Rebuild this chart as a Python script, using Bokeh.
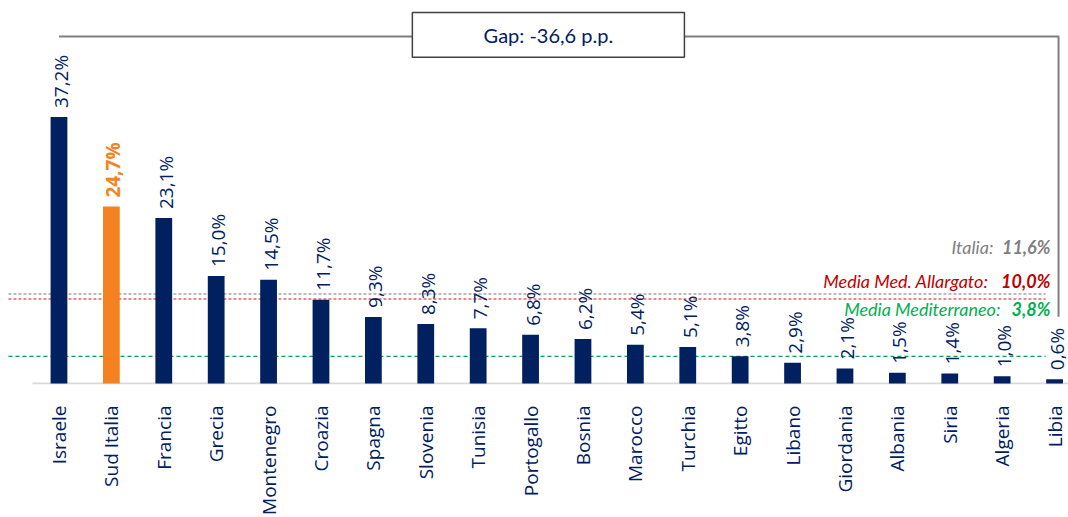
import math
from bokeh.plotting import figure
from bokeh.models import Range1d, FixedTicker, ColumnDataSource
from bokeh.core.properties import value
from bokeh.embed import file_html
from bokeh.resources import INLINE

# ---------------- data ----------------
countries = ["Israele", "Sud Italia", "Francia", "Grecia", "Montenegro", "Croazia",
             "Spagna", "Slovenia", "Tunisia", "Portogallo", "Bosnia", "Marocco",
             "Turchia", "Egitto", "Libano", "Giordania", "Albania", "Siria",
             "Algeria", "Libia"]
shares = [37.2, 24.7, 23.1, 15.0, 14.5, 11.7, 9.3, 8.3, 7.7, 6.8, 6.2, 5.4,
          5.1, 3.8, 2.9, 2.1, 1.5, 1.4, 1.0, 0.6]
highlight = "Sud Italia"

ref_names = ["Italia:", "Media Med. Allargato:", "Media Mediterraneo:"]
ref_values = [11.6, 10.0, 3.8]
ref_value_labels = ["11,6%", "10,0%", "3,8%"]
# levels at which the dashed reference lines are drawn in the original
ref_line_levels = [12.5, 11.8, 3.8]
ref_text_colors = ["#808080", "#C00000", "#00B050"]
ref_line_colors = ["#A6A6A6", "#E06666", "#00A050"]

gap_label = "Gap: -36,6 p.p."

# ---------------- styling ----------------
NAVY = "#002060"
ORANGE = "#F58220"

def fmt(v):
    return f"{v:.1f}".replace(".", ",") + "%"

n = len(countries)
xs = list(range(n))

p = figure(width=1068, height=517, output_backend="svg", toolbar_location=None,
           x_range=Range1d(-1.116, 19.266), y_range=Range1d(-0.14, 53.48),
           y_axis_location=None, min_border_left=0, min_border_right=0,
           min_border_top=0, min_border_bottom=132)
p.outline_line_color = None
p.xgrid.grid_line_color = None
p.ygrid.grid_line_color = None
p.background_fill_color = "white"

# x axis (tick labels only)
ax = p.xaxis[0]
ax.ticker = FixedTicker(ticks=xs)
ax.major_label_overrides = {i: c for i, c in enumerate(countries)}
ax.major_label_orientation = math.pi / 2
ax.axis_line_color = None
ax.major_tick_line_color = None
ax.minor_tick_line_color = None
ax.major_label_standoff = 15
ax.major_label_text_font = "Open Sans"
ax.major_label_text_font_size = "19px"
ax.major_label_text_color = NAVY

# dashed reference lines (behind bars)
dashes = ["3 2", "3 2", "4 3"]
widths = [1.5, 1.5, 1.2]
for lvl, col, d, w in zip(ref_line_levels, ref_line_colors, dashes, widths):
    p.line([-0.964, 18.83], [lvl, lvl], line_color=col, line_dash=d, line_width=w)

# baseline
p.line([-0.506, 19.26], [0, 0], line_color="#D9D9D9", line_width=2)

# bars
colors = [ORANGE if c == highlight else NAVY for c in countries]
src = ColumnDataSource(dict(x=xs, top=shares, color=colors))
p.vbar(x="x", top="top", bottom=0, width=0.32, fill_color="color",
       line_color=None, source=src)

# value labels
norm_idx = [i for i, c in enumerate(countries) if c != highlight]
hi_idx = [i for i, c in enumerate(countries) if c == highlight]
src_n = ColumnDataSource(dict(x=[xs[i] for i in norm_idx],
                              y=[shares[i] for i in norm_idx],
                              t=[fmt(shares[i]) for i in norm_idx]))
src_h = ColumnDataSource(dict(x=[xs[i] for i in hi_idx],
                              y=[shares[i] for i in hi_idx],
                              t=[fmt(shares[i]) for i in hi_idx]))
p.text(x="x", y="y", text="t", source=src_n, angle=math.pi / 2,
       text_align="left", text_baseline="middle", x_offset=2, y_offset=-9,
       text_font=value("Open Sans"), text_font_size="19px", text_color=NAVY)
p.text(x="x", y="y", text="t", source=src_h, angle=math.pi / 2,
       text_align="left", text_baseline="middle", x_offset=2, y_offset=-9,
       text_font=value("Open Sans"), text_font_size="19px", text_color=ORANGE,
       text_font_style="bold")

# reference labels (right side)
x_lab = 18.92
label_dy = [-47, -18, -47]
val_w = [57, 62, 50]
for name, vl, lvl, col, dy, vw in zip(ref_names, ref_value_labels, ref_line_levels,
                                      ref_text_colors, label_dy, val_w):
    p.text(x=[x_lab], y=[lvl], text=[vl], text_align="right", text_baseline="middle",
           y_offset=dy, text_font=value("Lato"), text_font_size="18px",
           text_font_style="bold italic", text_color=col)
    p.text(x=[x_lab], y=[lvl], text=[name], text_align="right", text_baseline="middle",
           x_offset=-vw, y_offset=dy, text_font=value("Lato"), text_font_size="18px",
           text_font_style="italic", text_color=col)

# gap annotation
gap_y = 48.47
box_cx = 9.34
box_hw = 2.596
box_top, box_bot = 51.81, 45.54
x_end = 19.076
p.line([0, box_cx - box_hw], [gap_y, gap_y], line_color="#7F7F7F", line_width=2)
p.line([box_cx + box_hw, x_end, x_end], [gap_y, gap_y, 9.33],
       line_color="#7F7F7F", line_width=2)
p.quad(left=[box_cx - box_hw], right=[box_cx + box_hw], top=[box_top], bottom=[box_bot],
       fill_color="white", line_color="#404040", line_width=1.5)
p.text(x=[box_cx], y=[(box_top + box_bot) / 2], text=[gap_label], text_align="center",
       text_baseline="middle", text_font=value("Lato"), text_font_size="20px",
       text_color=NAVY)

open("out.html", "w").write(file_html(p, INLINE))
